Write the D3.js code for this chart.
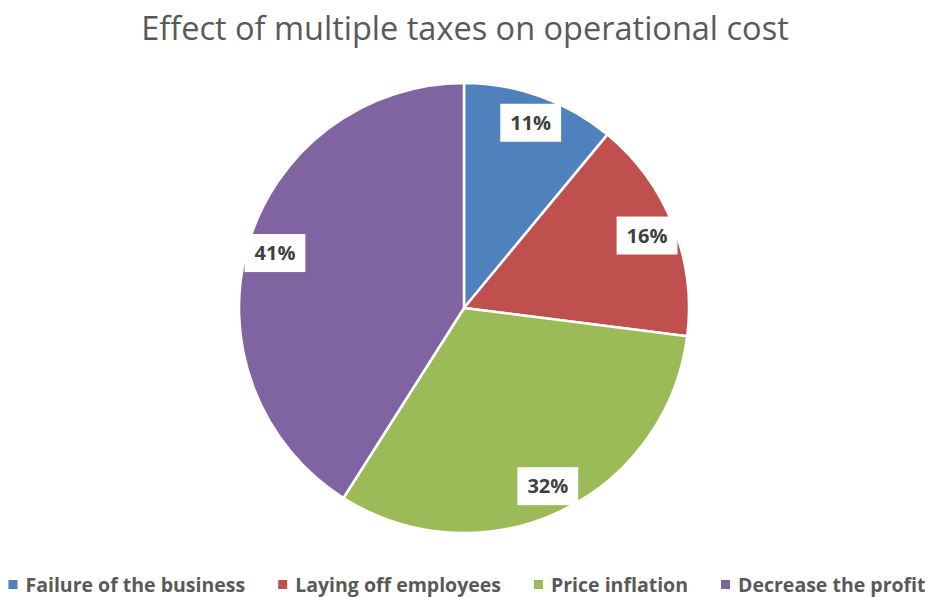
<!DOCTYPE html>
<html>
<head>
<meta charset="utf-8">
<script src="https://cdn.jsdelivr.net/npm/d3@7"></script>
<style>
  html, body { margin: 0; padding: 0; background: #ffffff; }
  svg { display: block; }
</style>
</head>
<body>
<svg id="chart" width="932" height="597"></svg>
<script>
// Share of respondents per effect (percent)
const categories = ["Failure of the business", "Laying off employees", "Price inflation", "Decrease the profit"];
const values = [11, 16, 32, 41];
const colors = ["#4f81bd", "#c0504d", "#9bbb59", "#8064a2"];
const title = "Effect of multiple taxes on operational cost";

const W = 932, H = 597;
const svg = d3.select("#chart");

const cx = 464, cy = 308, radius = 225;

// Title
svg.append("text")
  .attr("x", 465)
  .attr("y", 40)
  .attr("text-anchor", "middle")
  .attr("font-family", "Open Sans, sans-serif")
  .attr("font-size", 32.5)
  .attr("fill", "#595959")
  .text(title);

const data = categories.map((c, i) => ({ name: c, value: values[i], color: colors[i] }));

const pie = d3.pie().value(d => d.value).sort(null);
const arcs = pie(data);
const arc = d3.arc().innerRadius(0).outerRadius(radius);
const labelArc = d3.arc().innerRadius(radius * 0.875).outerRadius(radius * 0.875);

const g = svg.append("g").attr("transform", `translate(${cx},${cy})`);

g.selectAll("path.slice")
  .data(arcs)
  .join("path")
  .attr("class", "slice")
  .attr("d", arc)
  .attr("fill", d => d.data.color)
  .attr("stroke", "#ffffff")
  .attr("stroke-width", 2.5)
  .attr("stroke-linejoin", "round");

// Data labels in white boxes sized to their text
const labels = g.selectAll("g.lbl")
  .data(arcs)
  .join("g")
  .attr("class", "lbl")
  .attr("transform", d => `translate(${labelArc.centroid(d)})`);

const box = labels.append("rect").attr("fill", "#ffffff");

const lblText = labels.append("text")
  .attr("text-anchor", "middle")
  .attr("dy", "0.36em")
  .attr("font-family", "Open Sans, sans-serif")
  .attr("font-weight", "bold")
  .attr("font-size", 20)
  .attr("fill", "#404040")
  .text(d => d.data.value + "%");

lblText.each(function () {
  const w = this.getComputedTextLength() + 20;
  d3.select(this.parentNode).select("rect")
    .attr("x", -w / 2)
    .attr("y", -19)
    .attr("width", w)
    .attr("height", 38);
});

// Legend along the bottom, laid out from measured text widths
const legend = svg.append("g");
const items = legend.selectAll("g.item")
  .data(data)
  .join("g")
  .attr("class", "item");

items.append("rect")
  .attr("width", 9)
  .attr("height", 9)
  .attr("y", -12)
  .attr("fill", d => d.color);

items.append("text")
  .attr("x", 17)
  .attr("font-family", "Open Sans, sans-serif")
  .attr("font-weight", "bold")
  .attr("font-size", 19.5)
  .attr("fill", "#595959")
  .text(d => d.name);

const gap = 33;
let xPos = 0;
items.each(function () {
  const w = d3.select(this).select("text").node().getComputedTextLength() + 17;
  d3.select(this).attr("transform", `translate(${xPos},0)`);
  xPos += w + gap;
});
const totalW = xPos - gap;
legend.attr("transform", `translate(${(W - totalW) / 2 + 1},592)`);
</script>
</body>
</html>
